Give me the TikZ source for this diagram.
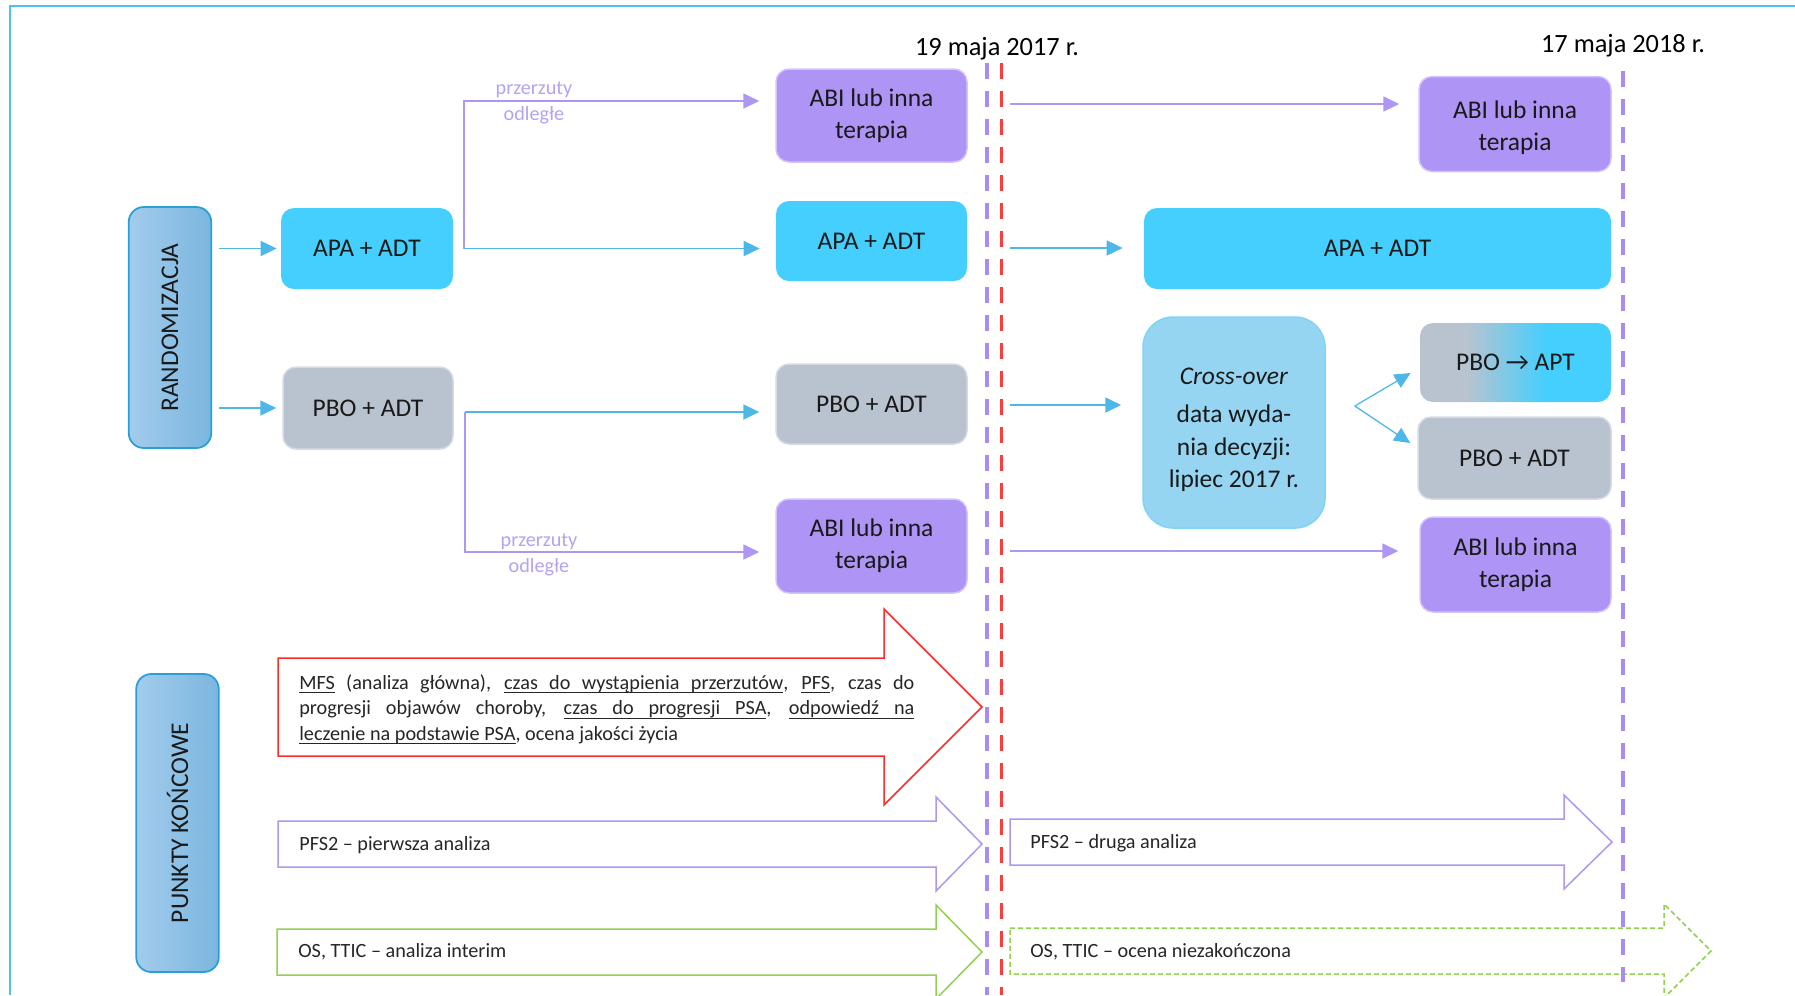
\documentclass[tikz,border=0pt]{standalone}
\usepackage{fontspec}
\setmainfont{Carlito}
\usetikzlibrary{arrows.meta,positioning}

\definecolor{apacyan}{HTML}{45CFFE}
\definecolor{pbogray}{HTML}{B9C3CF}
\definecolor{abipurple}{HTML}{AD94F5}
\definecolor{crossblue}{HTML}{96D5F2}
\definecolor{sidelight}{HTML}{A2CCEC}
\definecolor{sidedark}{HTML}{7BB6DF}
\definecolor{sideedge}{HTML}{2A9FD6}
\definecolor{lineblue}{HTML}{4DB7E8}
\definecolor{linepurple}{HTML}{AE96F5}
\definecolor{labelpurple}{HTML}{B4A2F2}
\definecolor{datered}{HTML}{FF3B3B}
\definecolor{datepurple}{HTML}{A88CF2}
\definecolor{endred}{HTML}{FF2A2A}
\definecolor{endgreen}{HTML}{92D050}
\definecolor{framecyan}{HTML}{4CC3EE}

\pgfdeclarehorizontalshading{pbotoapt}{100bp}{color(0bp)=(pbogray); color(37bp)=(pbogray); color(58bp)=(apacyan); color(100bp)=(apacyan)}

\newcommand{\boxfont}{\fontsize{14.5}{18}\selectfont}
\newcommand{\smallnote}{\fontsize{11.5}{14.5}\selectfont}
\newcommand{\ulword}[1]{\leavevmode\setbox0\hbox{#1}\rlap{\vrule height -1.8pt depth 2.2pt width\wd0}\box0\relax}
\newcommand{\ulspace}{\leaders\hrule height -1.8pt depth 2.2pt\hskip\fontdimen2\font plus\fontdimen3\font minus\fontdimen4\font\relax}

\tikzset{
  box/.style={rounded corners=2.6mm, minimum width=38.2mm, minimum height=16mm, inner sep=0pt, align=center, font=\boxfont, text=black!90},
  apabox/.style={box, fill=apacyan},
  pbobox/.style={box, fill=pbogray, draw=pbogray!60!white, line width=0.3mm},
  abibox/.style={box, fill=abipurple, draw=abipurple!55!white, line width=0.3mm, minimum height=18.8mm},
  sidebox/.style={rounded corners=3mm, minimum width=16.5mm, inner sep=0pt, left color=sidelight, right color=sidedark, draw=sideedge, line width=0.35mm, font=\boxfont, text=black!90},
  headtip/.style={-{Triangle[length=3.2mm,width=3mm]}},
  blueline/.style={headtip, draw=lineblue, line width=0.35mm},
  purpline/.style={headtip, draw=linepurple, line width=0.35mm},
  metlabel/.style={font=\smallnote, text=labelpurple, align=center},
  endtext/.style={font=\smallnote, text=black!85, anchor=west, inner sep=0pt},
  datemark/.style={line width=0.7mm, dash pattern=on 3.2mm off 2.4mm},
  bigarrow/.style={line width=0.3mm, fill=white},
}

\begin{document}
\begin{tikzpicture}[x=0.2mm,y=-0.2mm]
\clip (0,0) rectangle (1795,995);
\draw[framecyan, line width=0.35mm] (1795,6) -- (10,6) -- (10,995);

\node[sidebox, minimum height=48.2mm] (rand) at (170,327.5) {\rotatebox{90}{RANDOMIZACJA}};
\node[apabox, minimum width=34.4mm, minimum height=16.2mm] (apaL) at (367,248.5) {APA + ADT};
\node[pbobox, minimum width=34mm, minimum height=16.4mm] (pboL) at (368,408) {PBO + ADT};

\node[abibox, minimum height=18.6mm] (abiT) at (871.5,115.5) {ABI lub inna\\terapia};
\node[apabox] (apaM) at (871.5,241) {APA + ADT};
\node[pbobox] (pboM) at (871.5,404) {PBO + ADT};
\node[abibox] (abiB) at (871.5,546) {ABI lub inna\\terapia};

\node[abibox, minimum width=38.4mm, minimum height=19mm] (abiTR) at (1515,124) {\rule{0pt}{5mm}ABI lub inna\\terapia};
\node[apabox, minimum width=93.4mm, minimum height=16.2mm] (apaR) at (1377.5,248.5) {APA + ADT};
\node[box, fill=crossblue, draw=crossblue!70!apacyan, line width=0.3mm, rounded corners=6mm, minimum width=36.4mm, minimum height=42.2mm, font=\fontsize{14.5}{18.5}\selectfont] (cross) at (1234,422.5) {\rule{0pt}{6.3mm}\textit{Cross-over}\\[1.2mm]data wyda-\\nia decyzji:\\lipiec 2017 r.};
\node[box, shading=pbotoapt, minimum height=15.8mm] (pboapt) at (1515.5,362.5) {PBO → APT};
\node[pbobox, minimum width=38.6mm, minimum height=16.4mm] (pboR) at (1514.5,458) {PBO + ADT};
\node[abibox, minimum height=19mm] (abiBR) at (1515.5,564.5) {ABI lub inna\\terapia};

\node[sidebox, minimum height=59.6mm] (endp) at (177.5,823) {\rotatebox{90}{PUNKTY KOŃCOWE}};

\draw[blueline, shorten <=1.4mm, shorten >=0.8mm] (rand.east |- apaL.west) -- (apaL.west);
\draw[blueline, shorten <=1.4mm, shorten >=1.2mm] (rand.east |- pboL.west) -- (pboL.west);

\coordinate (apafork) at ([xshift=2.2mm]apaL.east);
\draw[purpline, shorten >=3.2mm] (apafork) |- ([yshift=2.9mm]abiT.west);
\draw[blueline, shorten >=3.2mm] (apafork) -- (apafork -| apaM.west);
\coordinate (pbofork) at ([xshift=2.2mm,yshift=-0.8mm]pboL.east);
\draw[blueline, shorten >=3.2mm] (pbofork) -- (pbofork -| pboM.west);
\draw[purpline, shorten >=3.2mm] (pbofork) |- ([yshift=-1.2mm]abiB.west);

\node[metlabel] (metT) at (534,103) {przerzuty\\odległe};
\node[metlabel] (metB) at (539,555) {przerzuty\\odległe};

\coordinate (r1) at (1010,104);
\coordinate (r2) at (1010,248);
\coordinate (r3) at (1010,405);
\coordinate (r4) at (1010,551);
\draw[purpline, shorten >=3.8mm] (r1) -- (r1 -| abiTR.west);
\draw[blueline, shorten >=4.2mm] (r2) -- (r2 -| apaR.west);
\draw[blueline, shorten >=4.2mm] (r3) -- (r3 -| cross.west);
\draw[purpline, shorten >=4.2mm] (r4) -- (r4 -| abiBR.west);

\coordinate (xfork) at ([xshift=5.8mm,yshift=3.3mm]cross.east);
\draw[blueline, line width=0.25mm] (xfork) -- ([xshift=-1.8mm,yshift=-2.1mm]pboapt.west);
\draw[blueline, line width=0.25mm] (xfork) -- ([xshift=-1.4mm,yshift=3mm]pboR.west);

\draw[bigarrow, draw=endred] (278,658) -- (884,658) -- (884,609) -- (982,707) -- (884,805) -- (884,756) -- (278,756) -- cycle;
\draw[bigarrow, draw=linepurple] (278,821) -- (936,821) -- (936,797) -- (982,844) -- (936,891) -- (936,867) -- (278,867) -- cycle;
\draw[bigarrow, draw=linepurple] (1010,819) -- (1564,819) -- (1564,795) -- (1612,842) -- (1564,889) -- (1564,865) -- (1010,865) -- cycle;
\draw[bigarrow, draw=endgreen] (277,929) -- (936,929) -- (936,905) -- (982,952) -- (936,999) -- (936,975) -- (277,975) -- cycle;
\draw[bigarrow, draw=endgreen, dash pattern=on 1mm off 0.6mm] (1010,928) -- (1664,928) -- (1664,904) -- (1711,951) -- (1664,998) -- (1664,974) -- (1010,974) -- cycle;

\node[font=\smallnote, text=black!85, text width=123mm, align=justify, inner sep=0pt, anchor=north west] (mfs) at (299,674) {\ulword{MFS} (analiza główna), \ulword{czas}\ulspace\ulword{do}\ulspace\ulword{wystąpienia}\ulspace\ulword{przerzutów}, \ulword{PFS}, czas do\linebreak progresji objawów choroby, \ulword{czas}\ulspace\ulword{do}\ulspace\ulword{progresji}\ulspace\ulword{PSA}, \ulword{odpowiedź}\ulspace\ulword{na}\linebreak \ulword{leczenie}\ulspace\ulword{na}\ulspace\ulword{podstawie}\ulspace\ulword{PSA}, ocena jakości życia};
\node[endtext] (pfsA) at (299,845) {PFS2 – pierwsza analiza};
\node[endtext] (pfsB) at (1030,843) {PFS2 – druga analiza};
\node[endtext] (osA) at (298,952) {OS, TTIC – analiza interim};
\node[endtext] (osB) at (1030,952) {OS, TTIC – ocena niezakończona};

\node[font=\fontsize{15}{18}\selectfont] (date1) at (997,49) {19 maja 2017 r.};
\node[font=\fontsize{15}{18}\selectfont] (date2) at (1623,46) {17 maja 2018 r.};
\draw[datemark, draw=datepurple] (987,63) -- (987,995);
\draw[datemark, draw=datered, line width=0.6mm] (1001,63) -- (1001,995);
\draw[datemark, draw=datepurple] (1623,71) -- (1623,982);
\end{tikzpicture}
\end{document}
